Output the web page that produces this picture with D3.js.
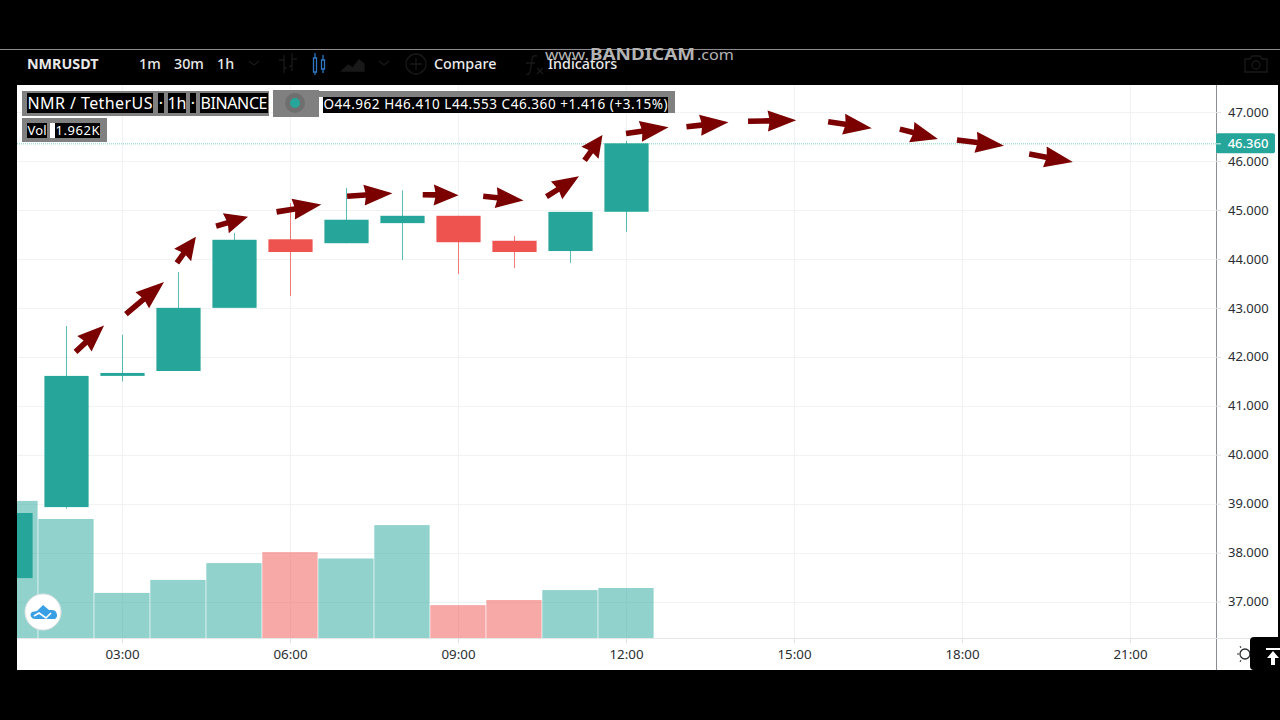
<!DOCTYPE html>
<html>
<head>
<meta charset="utf-8">
<script src="https://cdn.jsdelivr.net/npm/d3@7"></script>
<style>
html,body{margin:0;padding:0;background:#000;overflow:hidden}
text{font-family:"Noto Sans",sans-serif}
</style>
</head>
<body>
<svg id="chart" width="1280" height="720"></svg>
<script>
// NMRUSDT hourly candles, time expressed as hour of day
const hours  = [1, 2, 3, 4, 5, 6, 7, 8, 9, 10, 11, 12];
const opens  = [37.48, 38.93, 41.61, 41.71, 43.00, 44.40, 44.32, 44.73, 44.88, 44.37, 44.16, 44.962];
const closes = [38.81, 41.61, 41.67, 43.00, 44.39, 44.14, 44.80, 44.88, 44.34, 44.14, 44.96, 46.360];
const highs  = [38.90, 42.63, 42.45, 43.73, 44.53, 45.14, 45.45, 45.40, 44.88, 44.47, 44.96, 46.410];
const lows   = [37.48, 38.90, 41.50, 41.71, 43.00, 43.24, 44.32, 43.98, 43.69, 43.81, 43.92, 44.553];
// Volume in thousands
const volumes = [5.38, 4.67, 1.77, 2.28, 2.94, 3.37, 3.12, 4.43, 1.29, 1.49, 1.88, 1.962];

const priceTicks = [37, 38, 39, 40, 41, 42, 43, 44, 45, 46, 47];
const timeTicks  = [3, 6, 9, 12, 15, 18, 21];
const lastPrice  = 46.36;

// Hand-drawn projection arrows: [fromHour, fromPrice, toHour, toPrice]
const arrows = [
  [2.17, 42.10, 2.68, 42.64],
  [3.07, 42.87, 3.75, 43.53],
  [3.98, 43.92, 4.32, 44.45],
  [4.68, 44.67, 5.25, 44.86],
  [5.76, 44.96, 6.56, 45.11],
  [7.02, 45.28, 7.83, 45.34],
  [8.37, 45.31, 9.01, 45.30],
  [9.45, 45.28, 10.17, 45.19],
  [10.58, 45.27, 11.16, 45.69],
  [11.26, 46.01, 11.58, 46.53],
  [12.00, 46.56, 12.76, 46.69],
  [13.08, 46.70, 13.83, 46.79],
  [14.18, 46.81, 15.04, 46.83],
  [15.61, 46.80, 16.39, 46.67],
  [16.89, 46.65, 17.57, 46.45],
  [17.91, 46.43, 18.75, 46.31],
  [19.20, 46.14, 19.98, 45.98]
];

const svg = d3.select("#chart");
const teal = "#26a69a", red = "#ef5350";
const plot = {left: 17, right: 1216, top: 85, bottom: 638};

const x = d3.scaleLinear().domain([3, 6]).range([122, 290]);
const y = d3.scaleLinear().domain([37, 47]).range([601.6, 112]);
const v = d3.scaleLinear().domain([0, 1.962]).range([plot.bottom, 588]);
const isUp = i => closes[i] >= opens[i];

// Chart canvas
svg.append("rect").attr("x", plot.left).attr("y", plot.top)
  .attr("width", 1278 - plot.left).attr("height", 670 - plot.top).attr("fill", "#fff");

svg.append("defs").append("clipPath").attr("id", "pane").append("rect")
  .attr("x", plot.left).attr("y", plot.top)
  .attr("width", plot.right - plot.left).attr("height", plot.bottom - plot.top);

// Grid
const grid = svg.append("g").attr("stroke", "#f0f2f4").attr("stroke-width", 1);
grid.selectAll(".h").data(priceTicks).join("line").attr("class", "h")
  .attr("x1", plot.left).attr("x2", plot.right)
  .attr("y1", d => Math.round(y(d)) + .5).attr("y2", d => Math.round(y(d)) + .5);
grid.selectAll(".v").data(timeTicks).join("line").attr("class", "v")
  .attr("y1", plot.top).attr("y2", plot.bottom)
  .attr("x1", d => x(d) + .5).attr("x2", d => x(d) + .5);

const pane = svg.append("g").attr("clip-path", "url(#pane)");

// Volume histogram
pane.append("g").selectAll("rect").data(hours).join("rect")
  .attr("x", d => x(d) - 27.7).attr("width", 55.3)
  .attr("y", (d, i) => v(volumes[i]))
  .attr("height", (d, i) => plot.bottom - v(volumes[i]))
  .attr("fill", (d, i) => isUp(i) ? teal : red).attr("fill-opacity", .5);

// Candles
const candles = pane.append("g");
candles.selectAll("line").data(hours).join("line")
  .attr("x1", d => x(d) + .5).attr("x2", d => x(d) + .5)
  .attr("y1", (d, i) => y(highs[i])).attr("y2", (d, i) => y(lows[i]))
  .attr("stroke", (d, i) => isUp(i) ? teal : red).attr("stroke-opacity", .75);
candles.selectAll("rect").data(hours).join("rect")
  .attr("x", d => x(d) - 21.6).attr("width", 44.2)
  .attr("y", (d, i) => y(Math.max(opens[i], closes[i])))
  .attr("height", (d, i) => Math.max(2, Math.abs(y(opens[i]) - y(closes[i]))))
  .attr("fill", (d, i) => isUp(i) ? teal : red);

// Last price line
svg.append("line")
  .attr("x1", plot.left).attr("x2", plot.right)
  .attr("y1", y(lastPrice) + .5).attr("y2", y(lastPrice) + .5)
  .attr("stroke", teal).attr("stroke-opacity", .6).attr("stroke-dasharray", "1 1");

// Arrow outline built in pixel space from its two scaled end points
function arrowPath(a) {
  const x0 = x(a[0]), y0 = y(a[1]), x1 = x(a[2]), y1 = y(a[3]);
  const len = Math.hypot(x1 - x0, y1 - y0);
  const ux = (x1 - x0) / len, uy = (y1 - y0) / len;
  const nx = -uy, ny = ux;
  const head = Math.min(27, len * .65), hw = 10.5, sw = 2.8;
  const pt = (along, off) => [x0 + ux * along + nx * off, y0 + uy * along + ny * off];
  return d3.line()([
    pt(0, sw), pt(len - head, sw), pt(len - head - 1.5, hw), [x1, y1],
    pt(len - head - 1.5, -hw), pt(len - head, -sw), pt(0, -sw)
  ]) + "Z";
}
svg.append("g").selectAll("path").data(arrows).join("path")
  .attr("d", arrowPath).attr("fill", "#7b0000");

// Price and time axes
svg.append("line").attr("x1", plot.right + .5).attr("x2", plot.right + .5)
  .attr("y1", plot.top).attr("y2", 670).attr("stroke", "#8a8e92");
svg.append("line").attr("x1", plot.left).attr("x2", 1278)
  .attr("y1", plot.bottom + .5).attr("y2", plot.bottom + .5).attr("stroke", "#e4e6e8");

const yAxis = svg.append("g").attr("transform", `translate(${plot.right},0)`)
  .call(d3.axisRight(y).tickValues(priceTicks).tickFormat(d3.format(".3f")).tickSize(5).tickPadding(7));
yAxis.select(".domain").remove();
yAxis.selectAll("line").attr("stroke", "#e0e3e6");
yAxis.selectAll("text").attr("fill", "#2a2e32").style("font-size", "13px");

const xAxis = svg.append("g").attr("transform", `translate(0,${plot.bottom})`)
  .call(d3.axisBottom(x).tickValues(timeTicks)
    .tickFormat(d => String(d).padStart(2, "0") + ":00").tickSize(5).tickPadding(7));
xAxis.select(".domain").remove();
xAxis.selectAll("line").attr("stroke", "#e0e3e6");
xAxis.selectAll("text").attr("fill", "#2a2e32").style("font-size", "13.3px");

// Last price tag
svg.append("rect").attr("x", plot.right).attr("y", y(lastPrice) - 10)
  .attr("width", 59).attr("height", 20).attr("rx", 2).attr("fill", teal);
svg.append("line").attr("x1", plot.right).attr("x2", plot.right + 5)
  .attr("y1", y(lastPrice) + .5).attr("y2", y(lastPrice) + .5).attr("stroke", "#d6efec");
svg.append("text").attr("x", 1248).attr("y", y(lastPrice) + 4.5)
  .attr("text-anchor", "middle").attr("fill", "#fff").attr("font-size", 13).attr("font-weight", 500)
  .text(d3.format(".3f")(lastPrice));

// Toolbar
svg.append("rect").attr("x", 0).attr("y", 49).attr("width", 1280).attr("height", 1).attr("fill", "#8c8c8c");
const toolbarLabels = [["NMRUSDT", 27, 700], ["1m", 139, 500], ["30m", 174, 500], ["1h", 217, 500], ["Compare", 434, 500], ["Indicators", 548, 500]];
svg.append("g").selectAll("text").data(toolbarLabels).join("text")
  .attr("x", d => d[1]).attr("y", 69).attr("fill", "#e9e9e9")
  .attr("font-size", 14.3).attr("font-weight", d => d[2]).text(d => d[0]);

const dim = svg.append("g").attr("fill", "none").attr("stroke", "#191919").attr("stroke-width", 1.3);
dim.append("path").attr("d", "M249 61l5 4 5-4M279 60h5M284 55v18M284 68h3M292 66h-3M292 53v18M292 59h5M379 61l5 4 5-4");
dim.append("path").attr("d", "M342 71l6-6 5 3 6-8 5 4v7z").attr("fill", "#191919");
dim.append("circle").attr("cx", 416).attr("cy", 64).attr("r", 10);
dim.append("path").attr("d", "M416 58v12M410 64h12M537 56c-4-1-5 1-5 4l-2 12c-1 2-2 3-4 2M526 63h9M537 68l6 6M543 68l-6 6");
dim.append("path").attr("d", "M1245 59h5l2-3h8l2 3h5v13h-22z");
dim.append("circle").attr("cx", 1256).attr("cy", 65).attr("r", 4);
const candleIcon = svg.append("g").attr("fill", "none").attr("stroke", "#2f78c4").attr("stroke-width", 1.3);
candleIcon.append("path").attr("d", "M313.5 58h3v14h-3zM315 53v5M315 72v3M321.5 60h3v9h-3zM323 55v5M323 69v4");

// Legend strips
const greyBoxes = [[22, 91, 247, 25], [22, 118, 85, 24], [273, 90, 46, 27], [319, 91, 356, 22]];
svg.append("g").selectAll("rect").data(greyBoxes).join("rect")
  .attr("x", d => d[0]).attr("y", d => d[1]).attr("width", d => d[2]).attr("height", d => d[3]).attr("fill", "#808080");
svg.append("rect").attr("x", 319).attr("y", 97).attr("width", 4).attr("height", 16).attr("fill", "#fff");
svg.append("rect").attr("x", 50).attr("y", 123).attr("width", 5).attr("height", 15).attr("fill", "#fff");

// [text, left, width, top, height, font size]
const legendItems = [
  ["NMR / TetherUS", 27, 126, 93, 20, 16],
  ["·", 158, 6, 93, 20, 16],
  ["1h", 168, 18, 93, 20, 16],
  ["·", 190, 6, 93, 20, 16],
  ["BINANCE", 200, 68, 93, 20, 16],
  ["Vol", 27, 20, 123, 15, 13],
  ["1.962K", 55, 45, 123, 15, 13],
  ["O44.962 H46.410 L44.553 C46.360 +1.416 (+3.15%)", 323, 345, 97, 16, 13.5]
];
const legend = svg.append("g").selectAll("g").data(legendItems).join("g");
legend.append("rect").attr("x", d => d[1]).attr("y", d => d[3])
  .attr("width", d => d[2]).attr("height", d => d[4]).attr("fill", "#000");
legend.append("text").attr("x", d => d[1] + d[2] / 2).attr("y", d => d[3] + d[4] * .78)
  .attr("text-anchor", "middle").attr("fill", "#fff").attr("font-size", d => d[5])
  .attr("textLength", d => d[0].length > 2 ? d[2] - 1 : null)
  .attr("lengthAdjust", "spacing").text(d => d[0]);

// Market status dot
svg.append("circle").attr("cx", 295).attr("cy", 103).attr("r", 10).attr("fill", "#6f6f6f");
svg.append("circle").attr("cx", 295).attr("cy", 103).attr("r", 5).attr("fill", teal);

// Logo badge
svg.append("circle").attr("cx", 43).attr("cy", 612).attr("r", 18).attr("fill", "#fff")
  .attr("stroke", "#dfe3e6").attr("stroke-width", 1);
svg.append("path").attr("d", "M35 619a4 4 0 0 1-3-7l5-1 6-6 6 5 3 0a5 5 0 0 1 3 9z").attr("fill", "#3aa0e6");
svg.append("path").attr("d", "M34 616l5-3 7 5 5-5").attr("fill", "none").attr("stroke", "#fff").attr("stroke-width", 1.6);

// Settings gear and scroll-to-top button
svg.append("circle").attr("cx", 1245).attr("cy", 654).attr("r", 5)
  .attr("fill", "none").attr("stroke", "#2a2e32").attr("stroke-width", 1.3);
svg.append("path").attr("d", "M1239 654h-2M1241 648l-1-2M1241 660l-1 2").attr("stroke", "#2a2e32");
svg.append("rect").attr("x", 1250).attr("y", 637).attr("width", 40).attr("height", 33).attr("rx", 4).attr("fill", "#000");
svg.append("path").attr("d", "M1266 648h14v2h-14zM1273 651l6 7h-4v7h-4v-7h-4z").attr("fill", "#fff");

// Recorder watermark
const markParts = [["www.", 545, 44, 14, 400], ["BANDICAM", 590, 105, 16, 700], [".com", 697, 37, 14, 400]];
svg.append("g").selectAll("text").data(markParts).join("text")
  .attr("x", d => d[1]).attr("y", 60).attr("fill", "#b4b4b4")
  .attr("font-size", d => d[3]).attr("font-weight", d => d[4])
  .attr("textLength", d => d[2]).attr("lengthAdjust", "spacingAndGlyphs").text(d => d[0]);
</script>
</body>
</html>
